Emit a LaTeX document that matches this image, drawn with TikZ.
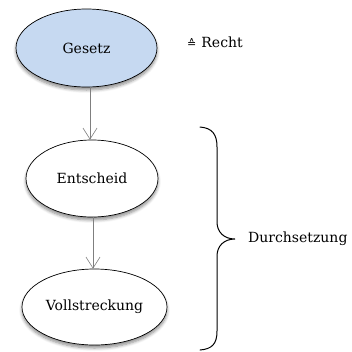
\documentclass[tikz,border=0pt]{standalone}
\usepackage{fontspec}
\setmainfont{DejaVu Serif}
\newfontfamily\symfont{DejaVu Sans}
\usetikzlibrary{shapes.geometric,shadows.blur,arrows.meta}
\definecolor{lawblue}{HTML}{C6D9F1}
\definecolor{arrgray}{HTML}{7F7F7F}
\tikzset{
  ell/.style={ellipse, draw=black, line width=0.7pt, fill=white, inner sep=0pt,
    font=\fontsize{14}{16}\selectfont,
    blur shadow={shadow xshift=0pt, shadow yshift=-3pt, shadow blur steps=6, shadow opacity=45, shadow blur radius=3pt}},
  conn/.style={draw=arrgray, line width=0.6pt, -{Straight Barb[length=11pt,width=14pt,line width=0.6pt]}},
  lbl/.style={font=\fontsize{14}{16}\selectfont, inner sep=0pt, anchor=west},
  bracestyle/.style={line width=1pt, line cap=round}
}
\begin{document}
\begin{tikzpicture}[x=1pt,y=-1pt]
\useasboundingbox (0,0) rectangle (352,351);
\node[ell, fill=lawblue, minimum width=141pt, minimum height=78pt] (g) at (86.5,48) {Gesetz};
\node[ell, minimum width=132pt, minimum height=77pt] (e) at (92,178.5) {Entscheid};
\node[ell, minimum width=145pt, minimum height=76pt] (v) at (94.5,307) {Vollstreckung};
\draw[conn] (g.south -| 90,0) -- (e.north -| 90,0);
\draw[conn] (e.south -| 93,0) -- (v.north -| 93,0);
\node[lbl] (r) at (187,42) {{\symfont\fontsize{11}{13}\selectfont ≙}\hspace{5pt}Recht};
\coordinate (bt) at (200,127);
\coordinate (tip) at (235,239);
\coordinate (bb) at (200,350);
\draw[bracestyle] (bt) .. controls (212,128) and (217,134) .. (217,147)
  -- (217,222) .. controls (217,232) and (224,239) .. (tip)
  .. controls (224,239) and (217,246) .. (217,256)
  -- (217,331) .. controls (217,344) and (212,349) .. (bb);
\node[lbl] (d) at (248,239) {Durchsetzung};
\end{tikzpicture}
\end{document}
